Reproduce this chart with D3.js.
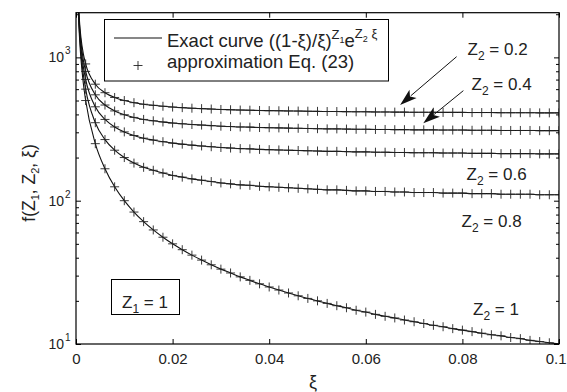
<!DOCTYPE html>
<html><head><meta charset="utf-8">
<script src="https://cdn.jsdelivr.net/npm/d3@7"></script>
<style>
body{margin:0;background:#fff;}
svg{display:block;font-family:"Liberation Sans",Arial,sans-serif;}
</style></head>
<body><svg id="c" width="567" height="392"></svg>
<script>
// ξ sample positions (first 5 only for the exact curve head, rest carry markers)
const xiHead = [0.0004, 0.0006, 0.0008, 0.001, 0.0015];
const xiGrid = d3.range(1, 51).map(k => +(k * 0.002).toFixed(3));
const xi = xiHead.concat(xiGrid);

// series values (top curve to bottom curve)
const s1 = [2900,2067,1650,1400,1067, 900,650,567,525,500,483,471,463,456,450,446,442,439,436,433,431,429,428,426,425,424,423,422,421,420,419,419,418,417,417,416,416,415,415,414,414,414,413,413,413,412,412,412,411,411,411,411,410,410,410];
const s2 = [2798,1965,1548,1298,965, 798,548,465,423,398,381,369,361,354,348,344,340,337,334,331,329,327,326,324,323,322,321,320,319,318,317,317,316,315,315,314,314,313,313,312,312,312,311,311,311,310,310,310,309,309,309,309,308,308,308];
const s3 = [2702,1869,1452,1202,869, 702,452,369,327,302,285,273,265,258,252,248,244,241,238,235,233,231,230,228,227,226,225,224,223,222,221,221,220,219,219,218,218,217,217,216,216,216,215,215,215,214,214,214,213,213,213,213,212,212,212];
const s4 = [2600,1767,1350,1100,767, 600,350,267,225,200,183,171,163,156,150,146,142,139,136,133,131,129,128,126,125,124,123,122,121,120,119,119,118,117,117,116,116,115,115,114,114,114,113,113,113,112,112,112,111,111,111,111,110,110,110];
const s5 = [2500,1667,1250,1000,667, 500,250,167,125,100,83.3,71.4,62.5,55.6,50,45.5,41.7,38.5,35.7,33.3,31.3,29.4,27.8,26.3,25,23.8,22.7,21.7,20.8,20,19.2,18.5,17.9,17.2,16.7,16.1,15.6,15.2,14.7,14.3,13.9,13.5,13.2,12.8,12.5,12.2,11.9,11.6,11.4,11.1,10.9,10.6,10.4,10.2,10];
const series = [s1, s2, s3, s4, s5];

const xTicks = [0, 0.02, 0.04, 0.06, 0.08, 0.1];
const yMajor = [10, 100, 1000];
const yExp = ["1", "2", "3"];
const yMinor = [20,30,40,50,60,70,80,90,200,300,400,500,600,700,800,900,2000];

const svg = d3.select("#c");
const L = 76, R = 559, T = 12.7, B = 344;
const x = d3.scaleLinear().domain([0, 0.1]).range([L, R]);
const y = d3.scaleLog().domain([10, 2050]).range([B, T]);

svg.append("clipPath").attr("id", "pc").append("rect")
  .attr("x", L).attr("y", T).attr("width", R - L).attr("height", B - T);

// curves
const line = d3.line().x(d => x(d[0])).y(d => y(d[1])).curve(d3.curveMonotoneX);
const g = svg.append("g").attr("clip-path", "url(#pc)");
series.forEach(s => {
  const pts = xi.map((v, i) => [v, s[i]]);
  g.append("path").attr("d", line(pts)).attr("fill", "none")
    .attr("stroke", "#111").attr("stroke-width", 1.1);
  const mk = pts.slice(xiHead.length);
  g.selectAll(null).data(mk).enter().append("path")
    .attr("d", d => { const cx = x(d[0]), cy = y(d[1]); return `M${cx-4.5},${cy}H${cx+4.5}M${cx},${cy-4.5}V${cy+4.5}`; })
    .attr("stroke", "#222").attr("stroke-width", 0.9).attr("fill", "none");
});

// axes
function styleAxis(sel) { sel.select(".domain").remove(); sel.selectAll("line").attr("stroke", "#000"); }
const xa = svg.append("g").attr("transform", `translate(0,${B})`)
  .call(d3.axisBottom(x).tickValues(xTicks).tickSize(-5).tickPadding(9)
    .tickFormat(d => String(+d.toFixed(2))))
  .call(styleAxis);
xa.selectAll("text").attr("font-size", 15).attr("fill", "#222").attr("font-family", "Liberation Sans, Arial, sans-serif");
// keep the last label inside the window
xa.selectAll(".tick").filter(d => d === 0.1).select("text").attr("text-anchor", "end").attr("x", 7);
svg.append("g").attr("transform", `translate(0,${T})`)
  .call(d3.axisTop(x).tickValues(xTicks).tickSize(-5).tickFormat(""))
  .call(styleAxis);
[[L, d3.axisLeft], [R, d3.axisRight]].forEach(([px, ax]) => {
  svg.append("g").attr("transform", `translate(${px},0)`)
    .call(ax(y).tickValues(yMajor).tickSize(-5).tickFormat("")).call(styleAxis);
  svg.append("g").attr("transform", `translate(${px},0)`)
    .call(ax(y).tickValues(yMinor).tickSize(-3).tickFormat("")).call(styleAxis);
});
// y tick labels with superscripts
yMajor.forEach((v, i) => {
  svg.append("text").attr("x", 64).attr("y", y(v) + 5).attr("text-anchor", "end")
    .attr("font-size", 14).attr("fill", "#222").text("10");
  svg.append("text").attr("x", 65).attr("y", y(v) - 3).attr("font-size", 10).attr("fill", "#222").text(yExp[i]);
});
// frame
svg.append("rect").attr("x", L).attr("y", T).attr("width", R - L).attr("height", B - T)
  .attr("fill", "none").attr("stroke", "#000").attr("stroke-width", 1.2);

// axis labels
svg.append("text").attr("x", 313).attr("y", 388).attr("text-anchor", "middle")
  .attr("font-size", 18).attr("fill", "#222").text("ξ");
const yl = svg.append("text").attr("transform", "translate(35,183) rotate(-90)")
  .attr("text-anchor", "middle").attr("font-size", 17.5).attr("fill", "#222");
yl.append("tspan").text("f(Z");
yl.append("tspan").attr("dy", 4).attr("font-size", 11).text("1");
yl.append("tspan").attr("dy", -4).text(", Z");
yl.append("tspan").attr("dy", 4).attr("font-size", 11).text("2");
yl.append("tspan").attr("dy", -4).text(", ξ)");

// legend
svg.append("rect").attr("x", 104.5).attr("y", 19.5).attr("width", 284).attr("height", 61.5)
  .attr("fill", "#fff").attr("stroke", "#000").attr("stroke-width", 1);
svg.append("line").attr("x1", 114).attr("x2", 162).attr("y1", 38).attr("y2", 38)
  .attr("stroke", "#111").attr("stroke-width", 1.1);
svg.append("path").attr("d", "M133.5,65.5H142.5M138,61V70").attr("stroke", "#222").attr("stroke-width", 0.9);
const lt = svg.append("text").attr("x", 167).attr("y", 46.5).attr("font-size", 18.5).attr("fill", "#222");
lt.append("tspan").text("Exact curve ((1-ξ)/ξ)");
lt.append("tspan").attr("dy", -8).attr("font-size", 13).text("Z");
lt.append("tspan").attr("dy", 4).attr("font-size", 9).text("1");
lt.append("tspan").attr("dy", 4).text("e");
lt.append("tspan").attr("dy", -9).attr("font-size", 13).text("Z");
lt.append("tspan").attr("dy", 4).attr("font-size", 9).text("2");
lt.append("tspan").attr("dy", -4).attr("font-size", 13).text(" ξ");
svg.append("text").attr("x", 167).attr("y", 68).attr("font-size", 18.5).attr("fill", "#222")
  .text("approximation Eq. (23)");

// Z1 box
svg.append("rect").attr("x", 111.5).attr("y", 279.5).attr("width", 68).attr("height", 35)
  .attr("fill", "#fff").attr("stroke", "#000").attr("stroke-width", 1);
function zlab(px, py, val) {
  const t = svg.append("text").attr("x", px).attr("y", py).attr("font-size", 17).attr("fill", "#222");
  t.append("tspan").text("Z");
  t.append("tspan").attr("dy", 5).attr("font-size", 12).text(val[0]);
  t.append("tspan").attr("dy", -5).text(" = " + val[1]);
}
zlab(122, 308, ["1", "1"]);
const zLabels = [["2", "0.2"], ["2", "0.4"], ["2", "0.6"], ["2", "0.8"], ["2", "1"]];
const zPos = [[467.5, 55], [471.5, 90], [466.5, 180], [461.5, 227], [473, 315]];
zLabels.forEach((v, i) => zlab(zPos[i][0], zPos[i][1], v));

// arrows (tail -> tip, in data coords)
const arrows = [[[0.0788, 1011], [0.0671, 466]], [[0.0802, 586], [0.0719, 347]]];
arrows.forEach(([a, b]) => {
  const x1 = x(a[0]), y1 = y(a[1]), x2 = x(b[0]), y2 = y(b[1]);
  const dx = x2 - x1, dy = y2 - y1, len = Math.hypot(dx, dy), ux = dx / len, uy = dy / len;
  const hl = 17, hw = 5.5;
  const bx = x2 - ux * hl, by = y2 - uy * hl;
  svg.append("line").attr("x1", x1).attr("y1", y1).attr("x2", bx + ux * 3).attr("y2", by + uy * 3)
    .attr("stroke", "#111").attr("stroke-width", 1);
  const p1 = [bx - uy * hw, by + ux * hw], p2 = [bx + uy * hw, by - ux * hw], n = [bx + ux * 4, by + uy * 4];
  svg.append("path").attr("d", `M${x2},${y2}L${p1}L${n}L${p2}Z`).attr("fill", "#111");
});
</script></body></html>
